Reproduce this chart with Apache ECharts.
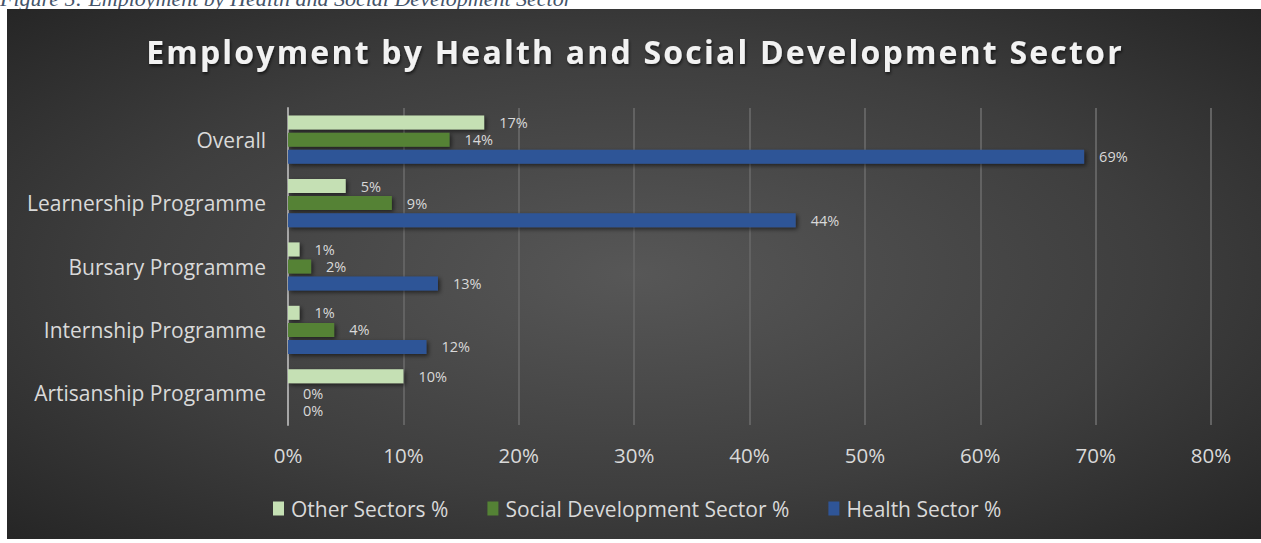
<!DOCTYPE html>
<html>
<head>
<meta charset="utf-8">
<script src="https://cdn.jsdelivr.net/npm/echarts@6/dist/echarts.min.js"></script>
<style>
html,body{margin:0;padding:0;background:#fff;}
#chart{width:1261px;height:543px;}
</style>
</head>
<body>
<div id="chart"></div>
<script>
var categories = ['Overall', 'Learnership Programme', 'Bursary Programme', 'Internship Programme', 'Artisanship Programme'];
var otherSectors = [17, 5, 1, 1, 10];
var socialDevelopment = [14, 9, 2, 4, 0];
var healthSector = [69, 44, 13, 12, 0];
var seriesNames = ['Other Sectors %', 'Social Development Sector %', 'Health Sector %'];
var xTicks = [0, 10, 20, 30, 40, 50, 60, 70, 80];
var chartTitle = 'Employment by Health and Social Development Sector';
var caption = 'Figure 5: Employment by Health and Social Development Sector';

var chart = echarts.init(document.getElementById('chart'), null, {renderer: 'svg'});

var labelStyle = {
  show: true,
  position: 'right',
  distance: 15,
  color: '#D9D9D9',
  fontFamily: 'Open Sans',
  fontSize: 14.5,
  formatter: function (p) { return p.value + '%'; }
};
var shadow = {shadowBlur: 4, shadowOffsetX: 2, shadowOffsetY: 2, shadowColor: 'rgba(0,0,0,0.55)'};

function mkSeries(name, data, color) {
  return {
    name: name,
    type: 'bar',
    data: data,
    barWidth: 14,
    barGap: '22%',
    barCategoryGap: '24%',
    itemStyle: Object.assign({color: color}, shadow),
    label: labelStyle,
    emphasis: {disabled: true}
  };
}

var option = {
  backgroundColor: '#ffffff',
  animation: false,
  graphic: [
    {
      type: 'text', x: 0, y: -2, z: -20,
      style: {
        text: caption,
        font: 'italic 22px "Liberation Serif"',
        fill: '#44546A',
        textVerticalAlign: 'middle'
      }
    },
    {
      type: 'rect', z: -10,
      shape: {x: 7, y: 9, width: 1254, height: 530},
      style: {
        fill: new echarts.graphic.RadialGradient(0.5, 0.5, 0.75, [
          {offset: 0, color: '#575757'},
          {offset: 0.55, color: '#3e3e3e'},
          {offset: 1, color: '#222222'}
        ])
      }
    },
    {
      type: 'text', x: 635, y: 51, z: 2,
      style: {
        text: chartTitle,
        font: 'bold 32px "Open Sans"',
        fill: '#F2F2F2',
        textAlign: 'center',
        textVerticalAlign: 'middle',
        textShadowColor: 'rgba(0,0,0,0.6)',
        textShadowBlur: 3,
        textShadowOffsetX: 1,
        textShadowOffsetY: 2
      }
    }
  ],
  legend: {
    data: seriesNames,
    left: 268,
    top: 493,
    itemWidth: 11,
    itemHeight: 14,
    itemGap: 39,
    icon: 'rect',
    textStyle: {color: '#D9D9D9', fontFamily: 'Open Sans', fontSize: 21, padding: [0, 0, 0, 2]}
  },
  grid: {left: 288, right: 50, top: 108, bottom: 118, containLabel: false},
  xAxis: {
    type: 'value',
    min: 0, max: 80, interval: 10,
    axisLine: {show: false},
    axisTick: {show: false},
    splitLine: {show: true, lineStyle: {color: '#626262', width: 2}},
    axisLabel: {
      color: '#D9D9D9', fontFamily: 'Open Sans', fontSize: 20.5, margin: 19,
      formatter: function (v) { return xTicks.indexOf(v) >= 0 ? v + '%' : ''; }
    }
  },
  yAxis: {
    type: 'category',
    data: categories,
    inverse: true,
    axisLine: {show: true, lineStyle: {color: '#A6A6A6', width: 2}},
    axisTick: {show: false},
    axisLabel: {color: '#D9D9D9', fontFamily: 'Open Sans', fontSize: 21, margin: 22}
  },
  series: [
    mkSeries(seriesNames[0], otherSectors, '#C5E0B4'),
    mkSeries(seriesNames[1], socialDevelopment, '#548235'),
    mkSeries(seriesNames[2], healthSector, '#2F5597')
  ]
};
chart.setOption(option);

function spaceTitle() {
  var texts = document.querySelectorAll('#chart text');
  for (var i = 0; i < texts.length; i++) {
    if (texts[i].textContent === chartTitle) {
      texts[i].style.letterSpacing = '2.2px';
    }
  }
}
spaceTitle();
chart.on('finished', spaceTitle);
</script>
</body>
</html>
